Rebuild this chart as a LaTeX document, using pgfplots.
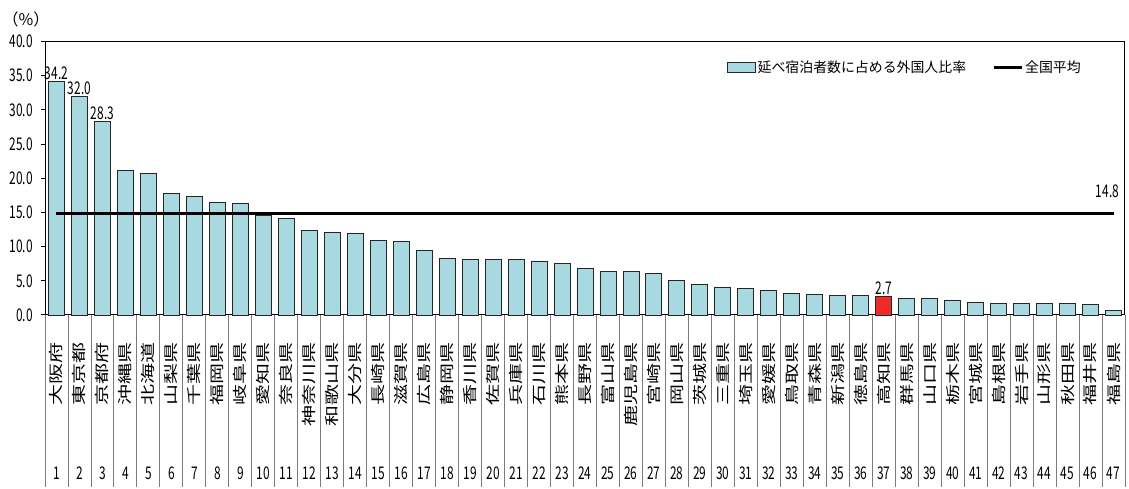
\documentclass[border=0pt]{standalone}
\usepackage{pgfplots}
\pgfplotsset{compat=1.18}
\usepackage{fontspec}
\setmainfont{Noto Sans CJK JP}
\newfontfamily\numfont{Noto Sans CJK JP}[FakeStretch=0.68]
\newfontfamily\rotfont{Noto Sans CJK JP}[FakeStretch=1.45]
\definecolor{barblue}{HTML}{A8D8E0}
\definecolor{barred}{HTML}{EE2A2A}
\definecolor{sepgray}{HTML}{7A7A7A}
\pgfplotsset{
  barlegend/.style={legend image code/.code={\draw[##1, line width=1pt] (0pt,-5pt) rectangle (28pt,5pt);}},
  linelegend/.style={legend image code/.code={\draw[##1] (0pt,0pt) -- (28pt,0pt);}},
}

\begin{document}
\begin{tikzpicture}
\begin{axis}[
  scale only axis, width=1080pt, height=273.5pt,
  xmin=0.5, xmax=47.5, ymin=0, ymax=40,
  clip=false,
  axis line style={black, line width=1pt},
  tick align=outside, major tick length=4pt,
  xtick pos=bottom, ytick pos=left,
  ytick={0,5,...,40},
  yticklabel style={font=\numfont\fontsize{17.5}{18}\selectfont, inner sep=0pt, xshift=-8pt,
    /pgf/number format/.cd, fixed, fixed zerofill, precision=1, assume math mode=true},
  ytick style={black, line width=1pt},
  xtick={1,...,47},
  xtick style={draw=none},
  xticklabels={大阪府,東京都,京都府,沖縄県,北海道,山梨県,千葉県,福岡県,岐阜県,愛知県,
    奈良県,神奈川県,和歌山県,大分県,長崎県,滋賀県,広島県,静岡県,香川県,佐賀県,
    兵庫県,石川県,熊本県,長野県,富山県,鹿児島県,宮崎県,岡山県,茨城県,三重県,
    埼玉県,愛媛県,鳥取県,青森県,新潟県,徳島県,高知県,群馬県,山口県,栃木県,
    宮城県,島根県,岩手県,山形県,秋田県,福井県,福島県},
  xticklabel style={rotate=90, anchor=east, inner sep=0pt, font=\rotfont\fontsize{14.5}{15}\selectfont},
  xticklabel shift=23pt,
  legend columns=2,
  legend style={draw=none, fill=none, at={(0.631,0.905)}, anchor=west, inner sep=0pt,
    font=\fontsize{13.9}{15}\selectfont, /tikz/every even column/.append style={column sep=24pt}},
  legend cell align=left,
]

\addplot[ybar, bar width=16pt, bar shift=0pt, fill=barblue, draw=black!85, line width=0.9pt, barlegend]
  coordinates {
  (1,34.2)(2,32.0)(3,28.3)(4,21.2)(5,20.7)(6,17.8)(7,17.4)(8,16.4)(9,16.3)(10,14.5)
  (11,14.1)(12,12.4)(13,12.1)(14,11.9)(15,10.9)(16,10.8)(17,9.4)(18,8.3)(19,8.1)(20,8.1)
  (21,8.1)(22,7.9)(23,7.6)(24,6.8)(25,6.3)(26,6.3)(27,6.1)(28,5.1)(29,4.4)(30,4.1)
  (31,3.9)(32,3.6)(33,3.2)(34,3.0)(35,2.9)(36,2.9)(37,0)(38,2.4)(39,2.4)(40,2.2)
  (41,1.9)(42,1.7)(43,1.7)(44,1.7)(45,1.7)(46,1.5)(47,0.7)
  };
\addlegendentry{延べ宿泊者数に占める外国人比率}

\addplot[black, line width=3pt, linelegend]
  coordinates {(1,14.8)(47,14.8)};
\addlegendentry{全国平均}

\addplot[ybar, bar width=16pt, bar shift=0pt, fill=barred, draw=black!85, line width=0.9pt, forget plot]
  coordinates {(37,2.7)};

% column separators of the name table below the axis
\addplot[ycomb, sepgray, line width=0.9pt, mark=none, forget plot]
  coordinates {
  (0.5,-25.15)(1.5,-25.15)(2.5,-25.15)(3.5,-25.15)(4.5,-25.15)(5.5,-25.15)(6.5,-25.15)(7.5,-25.15)
  (8.5,-25.15)(9.5,-25.15)(10.5,-25.15)(11.5,-25.15)(12.5,-25.15)(13.5,-25.15)(14.5,-25.15)(15.5,-25.15)
  (16.5,-25.15)(17.5,-25.15)(18.5,-25.15)(19.5,-25.15)(20.5,-25.15)(21.5,-25.15)(22.5,-25.15)(23.5,-25.15)
  (24.5,-25.15)(25.5,-25.15)(26.5,-25.15)(27.5,-25.15)(28.5,-25.15)(29.5,-25.15)(30.5,-25.15)(31.5,-25.15)
  (32.5,-25.15)(33.5,-25.15)(34.5,-25.15)(35.5,-25.15)(36.5,-25.15)(37.5,-25.15)(38.5,-25.15)(39.5,-25.15)
  (40.5,-25.15)(41.5,-25.15)(42.5,-25.15)(43.5,-25.15)(44.5,-25.15)(45.5,-25.15)(46.5,-25.15)(47.5,-25.15)
  };

% value labels
\addplot[draw=none, mark=none, forget plot, nodes near coords,
  every node near coord/.append style={anchor=south, inner sep=1.5pt, black,
    font=\numfont\fontsize{17.5}{18}\selectfont,
    /pgf/number format/.cd, fixed, fixed zerofill, precision=1, assume math mode=true}]
  coordinates {(1,34.2)(2,32.0)(3,28.3)(37,2.7)};
\addplot[draw=none, mark=none, forget plot, nodes near coords,
  every node near coord/.append style={anchor=south, inner sep=0pt, xshift=-6pt, yshift=16pt, black,
    font=\numfont\fontsize{17.5}{18}\selectfont,
    /pgf/number format/.cd, fixed, fixed zerofill, precision=1, assume math mode=true}]
  coordinates {(47,14.8)};

% rank numbers under the names
\addplot[draw=none, mark=none, forget plot, point meta=x, nodes near coords,
  every node near coord/.append style={anchor=center, inner sep=0pt, yshift=-158pt, black,
    font=\numfont\fontsize{17.5}{18}\selectfont,
    /pgf/number format/.cd, int detect, assume math mode=true}]
  coordinates {
  (1,0)(2,0)(3,0)(4,0)(5,0)(6,0)(7,0)(8,0)(9,0)(10,0)(11,0)(12,0)(13,0)(14,0)(15,0)(16,0)
  (17,0)(18,0)(19,0)(20,0)(21,0)(22,0)(23,0)(24,0)(25,0)(26,0)(27,0)(28,0)(29,0)(30,0)(31,0)
  (32,0)(33,0)(34,0)(35,0)(36,0)(37,0)(38,0)(39,0)(40,0)(41,0)(42,0)(43,0)(44,0)(45,0)(46,0)(47,0)
  };

\node[font=\fontsize{16}{18}\selectfont, inner sep=0pt] at (rel axis cs:0,1) [xshift=-19pt, yshift=22pt] {（\%）};
\end{axis}
\pgfresetboundingbox
\path (current axis.south west) ++(-45pt,-174pt) rectangle ++(1129pt,489pt);
\end{tikzpicture}
\end{document}
